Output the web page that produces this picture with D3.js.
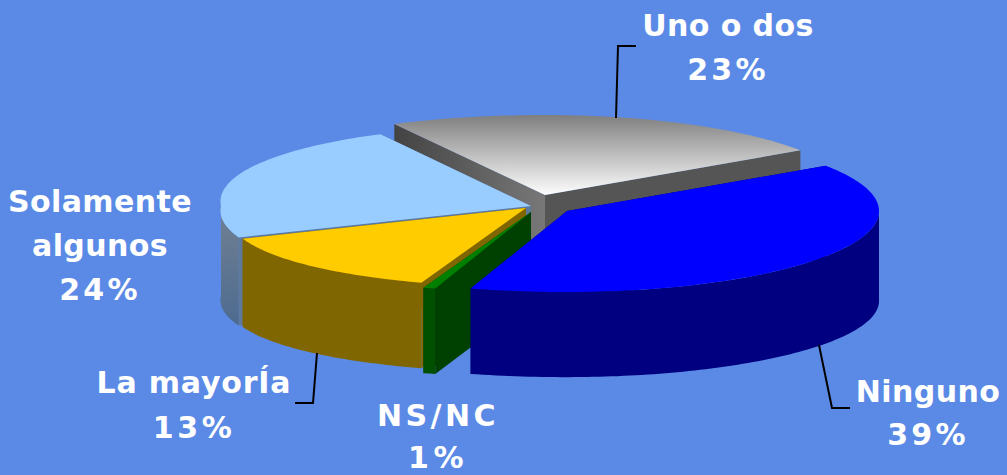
<!DOCTYPE html>
<html><head><meta charset="utf-8">
<script src="https://cdn.jsdelivr.net/npm/d3@7"></script>
<style>html,body{margin:0;padding:0;background:#5b8ae6;overflow:hidden}svg{display:block}</style>
</head><body><svg id="c" width="1007" height="475"></svg>
<script>
// Data: plotted shares; the labels show them rounded
const categories = ["Uno o dos", "Ninguno", "NS/NC", "La mayorÍa", "Solamente algunos"];
const values = [23.2, 39.1, 0.6, 13.4, 23.7];
const labelLines = [["Uno o dos"], ["Ninguno"], ["NS/NC"], ["La mayorÍa"], ["Solamente", "algunos"]];

// Layout and style, per slice
const centers = [[545,195],[567,211],[531,212],[526,208],[531,206]];
const radiiX = [308,312,308,297,310];
const radiiY = [80,81,80,79,81];
const leftSpread = [0.067,0.073,0.08,0.09,0.058]; // perspective widening on the left side
const topFill = ["url(#gGray)","#0000ff","#008000","#ffcc00","#99ccff"];
const arcFill = ["#666666","#000080","#005000","#806600","url(#gSlate)"];
const cutStart = ["url(#gCutL)","#000060","#004000","#806600","#5d7a9e"]; // face along the slice's first radius
const cutEnd = ["#555555","#000060","#004000","#806600","#5d7a9e"];       // face along its last radius
const labelPos = [[728,36],[928,402],[438,426],[194,393],[100,212]];
const labelGap = [44,43,42,45,44];
const nameSpacing = [0.4,0.4,3.4,0.8,0.4];
const percentSpacing = [3.2,3.2,4.5,3.6,3.2];
const leaders = [
  [[616,118],[618,46],[636,46]],
  [[819,345],[832,408],[850,408]],
  null,
  [[317,353],[313,403],[295,403]],
  null
];
const depth = 90, bottomRy = 0.94, fontSize = 30;

const svg = d3.select("#c");
const defs = svg.append("defs");
function grad(id, x1,y1,x2,y2, stops){
  const g = defs.append("linearGradient").attr("id",id).attr("gradientUnits","userSpaceOnUse")
    .attr("x1",x1).attr("y1",y1).attr("x2",x2).attr("y2",y2);
  stops.forEach(s=>g.append("stop").attr("offset",s[0]).attr("stop-color",s[1]));
}
grad("gGray",0,115,0,196,[[0,"#7f7f7f"],[1,"#ffffff"]]);
grad("gCutL",396,0,546,0,[[0,"#444444"],[1,"#787878"]]);
grad("gSlate",0,215,0,320,[[0,"#6f7f92"],[1,"#4f6c90"]]);

svg.append("rect").attr("width",1007).attr("height",475).attr("fill","#5b8ae6");

const pieLayout = d3.pie().sort(null).value(d=>d)
  .startAngle(-27.5*Math.PI/180).endAngle((360-27.5)*Math.PI/180);
const arcs = pieLayout(values);
const pathLine = d3.line();

function pt(i,a,bottom){
  const [cx,cy]=centers[i], t=a-Math.PI/2, c=Math.cos(t), s=Math.sin(t);
  const ry = bottom ? radiiY[i]*bottomRy : radiiY[i];
  const w = c<0 ? 1+leftSpread[i]*Math.abs(s) : 1;
  return [cx+radiiX[i]*c*w, cy+(bottom?depth:0)+ry*s];
}
function arcPts(i,a0,a1,bottom){
  const n=Math.max(2,Math.ceil(Math.abs(a1-a0)/0.02));
  return d3.range(n+1).map(k=>pt(i,a0+(a1-a0)*k/n,bottom));
}
function cutFace(i,a){
  const [cx,cy]=centers[i];
  return pathLine([[cx,cy],pt(i,a,false),pt(i,a,true),[cx,cy+depth]])+"Z";
}
function sideWall(i,a0,a1){
  // only the front half of the rim is visible
  const lo=Math.max(a0,Math.PI/2), hi=Math.min(a1,3*Math.PI/2);
  if(hi<=lo) return null;
  return pathLine(arcPts(i,lo,hi,false).concat(arcPts(i,hi,lo,true)))+"Z";
}
function topFace(i,a0,a1){
  return pathLine([centers[i]].concat(arcPts(i,a0,a1,false)))+"Z";
}
function drawSlice(i){
  const d=arcs[i], g=svg.append("g").attr("class","slice").datum(categories[i]);
  g.append("path").attr("d",cutFace(i,d.startAngle)).attr("fill",cutStart[i]);
  g.append("path").attr("d",cutFace(i,d.endAngle)).attr("fill",cutEnd[i]);
  const w=sideWall(i,d.startAngle,d.endAngle);
  if(w) g.append("path").attr("d",w).attr("fill",arcFill[i]);
  g.append("path").attr("d",topFace(i,d.startAngle,d.endAngle)).attr("fill",topFill[i]);
}
// Back to front
[0,4,3,2,1].forEach(drawSlice);

leaders.forEach(l=>{ if(l) svg.append("path").attr("d",pathLine(l)).attr("fill","none").attr("stroke","#000").attr("stroke-width",2); });

arcs.forEach((d,i)=>{
  const lines=labelLines[i].concat([Math.round(values[i])+"%"]);
  const t=svg.append("text").attr("text-anchor","middle").attr("fill","#fff")
    .attr("font-family","'DejaVu Sans',Verdana,sans-serif").attr("font-weight","bold").attr("font-size",fontSize);
  lines.forEach((s,k)=>t.append("tspan").attr("x",labelPos[i][0]).attr("y",labelPos[i][1]+k*labelGap[i])
    .attr("letter-spacing",k===lines.length-1?percentSpacing[i]:nameSpacing[i]).text(s));
});
</script></body></html>
